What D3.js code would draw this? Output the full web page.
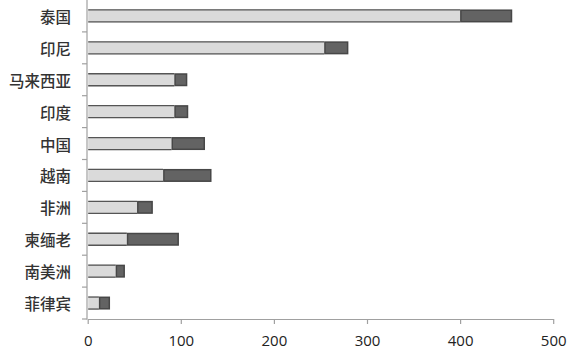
<!DOCTYPE html>
<html><head><meta charset="utf-8">
<script src="https://cdn.jsdelivr.net/npm/d3@7"></script>
<style>body{margin:0;background:#fff}svg{display:block}</style>
</head><body><svg id="c" width="571" height="354"></svg>
<script>
const categories = ["泰国","印尼","马来西亚","印度","中国","越南","非洲","柬缅老","南美洲","菲律宾"];
const series1 = [400,254,93,93,90,81,53,42,30,12];
const series2 = [56,26,14,15,36,52,17,56,10,12];
const xTicks = [0,100,200,300,400,500];

const svg = d3.select("#c");
const x = d3.scaleLinear().domain([0,500]).range([87.7,553.2]);
const band = d3.scaleBand().domain(categories).range([0,319]);
const axisColor = "#a0a0a0";

// y axis line and ticks
svg.append("line").attr("x1",87).attr("x2",87).attr("y1",0).attr("y2",319.5)
  .attr("stroke",axisColor).attr("stroke-width",1.2);
categories.forEach((c,i)=>{
  const yy = band(c);
  if(i>0) svg.append("line").attr("x1",82).attr("x2",87).attr("y1",yy).attr("y2",yy).attr("stroke",axisColor).attr("stroke-width",1.2);
});
svg.append("line").attr("x1",82).attr("x2",87).attr("y1",319).attr("y2",319).attr("stroke",axisColor).attr("stroke-width",1.2);

// x axis
const xa = svg.append("g").attr("transform","translate(0,319)")
  .call(d3.axisBottom(x).tickValues(xTicks).tickSize(5).tickSizeOuter(0).tickPadding(11));
xa.select(".domain").attr("stroke",axisColor).attr("stroke-width",1.2);
xa.selectAll(".tick line").attr("stroke",axisColor).attr("stroke-width",1.2);
xa.selectAll(".tick text").attr("fill","#222").attr("font-size","15px")
  .attr("font-family","'Open Sans','Liberation Sans',sans-serif");

// category labels
svg.append("g").selectAll("text").data(categories).join("text")
  .attr("x",71).attr("y",d=>band(d)+band.bandwidth()/2)
  .attr("text-anchor","end").attr("dominant-baseline","central")
  .attr("font-family","'Noto Sans CJK SC',sans-serif").attr("font-size","15.5px")
  .attr("font-weight",500).attr("fill","#333").text(d=>d);

// bars
const bh = 13;
const g = svg.append("g");
categories.forEach((c,i)=>{
  const cy = band(c)+band.bandwidth()/2;
  const top = cy - bh/2;
  const x0 = x(0)+0.5, x1 = x(series1[i]), x2 = x(series1[i]+series2[i]);
  g.append("rect").attr("x",x0).attr("y",top).attr("width",x1-x0).attr("height",bh).attr("fill","#dadada");
  g.append("line").attr("x1",x0).attr("x2",x1).attr("y1",top+0.5).attr("y2",top+0.5).attr("stroke","#555").attr("stroke-width",1.3);
  g.append("line").attr("x1",x0).attr("x2",x1).attr("y1",top+bh-0.5).attr("y2",top+bh-0.5).attr("stroke","#555").attr("stroke-width",1.3);
  g.append("rect").attr("x",x1+0.75).attr("y",top+0.75).attr("width",Math.max(0,x2-x1-1.5)).attr("height",bh-1.5)
    .attr("fill","#636363").attr("stroke","#474747").attr("stroke-width",1.5);
});
</script></body></html>
